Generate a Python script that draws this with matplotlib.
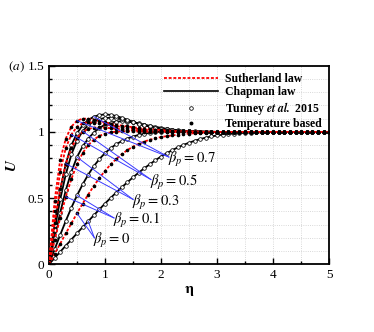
import numpy as np
import matplotlib
matplotlib.use("Agg")
import matplotlib.pyplot as plt
from matplotlib.ticker import MultipleLocator, FormatStrFormatter

plt.rcParams['font.family'] = ['Liberation Serif', 'DejaVu Serif']
plt.rcParams['mathtext.fontset'] = 'stix'

# eta grid (0 .. 5, step 0.1)
eta = np.round(np.arange(0, 5.01, 0.1), 2)

# Chapman law profiles (black, circles)
chap_0 = [0, .047, .094, .141, .187, .234, .280, .325, .370, .415,
          .459, .501, .542, .582, .620, .657, .692, .725, .756, .786,
          .814, .839, .862, .883, .902, .918, .933, .946, .957, .966,
          .973, .979, .984, .988, .991, .993, .995, .996, .997, .998,
          .999] + [1.0] * 10
chap_01 = [0, .112, .222, .328, .428, .520, .603, .677, .741, .795,
           .840, .877, .907, .931, .950, .965, .977, .986, .993, .998,
           1.002, 1.005, 1.006, 1.006, 1.005, 1.004, 1.003, 1.002, 1.001, 1.001] + [1.0] * 21
chap_03 = [0, .20, .39, .56, .70, .81, .89, .95, .995, 1.03,
           1.055, 1.07, 1.078, 1.08, 1.078, 1.072, 1.064, 1.055, 1.046, 1.038,
           1.031, 1.024, 1.018, 1.013, 1.009, 1.006, 1.004, 1.002, 1.001, 1.0] + [1.0] * 21
chap_05 = [0, .26, .49, .68, .83, .935, 1.005, 1.05, 1.08, 1.097,
           1.105, 1.107, 1.103, 1.095, 1.085, 1.073, 1.061, 1.05, 1.04, 1.032,
           1.025, 1.019, 1.014, 1.01, 1.007, 1.005, 1.003, 1.002, 1.001, 1.001] + [1.0] * 21
chap_07 = [0, .30, .56, .76, .90, .99, 1.05, 1.09, 1.115, 1.128,
           1.132, 1.129, 1.12, 1.107, 1.092, 1.077, 1.063, 1.051, 1.041, 1.032,
           1.025, 1.019, 1.014, 1.01, 1.007, 1.005, 1.003, 1.002, 1.001, 1.001] + [1.0] * 21

# Sutherland law profiles (red dashed, dots)
suth_0 = [0, .078, .156, .233, .310, .385, .458, .527, .592, .652,
          .706, .754, .796, .832, .863, .889, .910, .927, .941, .952,
          .961, .968, .974, .979, .983, .987, .990, .992, .994, .996,
          .997, .998, .999] + [1.0] * 18
suth_01 = [0, .18, .35, .51, .645, .755, .84, .90, .942, .97,
           .987, .997, 1.002, 1.004, 1.005, 1.004, 1.003, 1.002, 1.001, 1.001] + [1.0] * 31
suth_03 = [0, .31, .57, .76, .88, .955, 1.0, 1.022, 1.032, 1.034,
           1.032, 1.028, 1.024, 1.02, 1.016, 1.013, 1.01, 1.008, 1.006, 1.005,
           1.004, 1.003, 1.002, 1.002, 1.001, 1.001] + [1.0] * 25
suth_05 = [0, .40, .70, .88, .98, 1.04, 1.065, 1.072, 1.07, 1.064,
           1.057, 1.05, 1.043, 1.037, 1.031, 1.026, 1.022, 1.018, 1.015, 1.012,
           1.01, 1.008, 1.006, 1.005, 1.004, 1.003, 1.002, 1.001, 1.001] + [1.0] * 22
suth_07 = [0, .48, .79, .95, 1.04, 1.085, 1.10, 1.10, 1.092, 1.082,
           1.072, 1.063, 1.055, 1.048, 1.041, 1.035, 1.03, 1.025, 1.021, 1.017,
           1.014, 1.011, 1.009, 1.007, 1.005, 1.004, 1.003, 1.002, 1.001, 1.001] + [1.0] * 21

chapman = [chap_0, chap_01, chap_03, chap_05, chap_07]
sutherland = [suth_0, suth_01, suth_03, suth_05, suth_07]

beta_labels = ['0', '0.1', '0.3', '0.5', '0.7']
label_pos = [(0.79, 0.18), (1.14, 0.33), (1.48, 0.47), (1.80, 0.62), (2.12, 0.79)]
# grid index on (sutherland, chapman) curve where leader lines touch
leader_idx = [(5, 7), (3, 5), (3, 5), (4, 6), (5, 8)]

fig = plt.figure(figsize=(3.74, 3.32), dpi=100)
ax = fig.add_axes([0.131, 0.204, 0.749, 0.598])

for u in chapman:
    ax.plot(eta, u, color='black', lw=1.3, zorder=3)
    ax.plot(eta, u, ls='none', marker='o', ms=2.6, mfc='white', mec='black',
            mew=0.55, zorder=4)
for u in sutherland:
    ax.plot(eta, u, color='red', lw=1.3, ls=(0, (1.6, 1.0)), zorder=5)
    ax.plot(eta, u, ls='none', marker='o', ms=1.6, color='black', zorder=6)

for lab, (tx, ty), (i_s, i_c), us, uc in zip(beta_labels, label_pos, leader_idx,
                                           sutherland, chapman):
    ax.text(tx, ty, r'$\beta_p = %s$' % lab, fontsize=10.5, ha='left', va='center', zorder=8)
    for xx, yy in [(eta[i_s], us[i_s]), (eta[i_c], uc[i_c])]:
        ax.plot([xx, tx + 0.02], [yy, ty + 0.02], color='#3a3aff', lw=0.7, zorder=7)

# legend proxies
ax.plot([], [], color='red', lw=1.3, ls=(0, (1.6, 1.0)), label='Sutherland law')
ax.plot([], [], color='black', lw=1.2, label='Chapman law')
ax.plot([], [], ls='none', marker='o', ms=2.6, mfc='white', mec='black', mew=0.55,
        label=r'Tunney $\mathbfit{et\ al.}$ 2015')
ax.plot([], [], ls='none', marker='o', ms=1.8, color='black', label='Temperature based')
h, l = ax.get_legend_handles_labels()
leg = ax.legend(h[-4:], l[-4:], loc='upper right', frameon=False,
                handlelength=4.6, labelspacing=0.12, borderaxespad=0.2,
                handletextpad=0.6, prop={'weight': 'bold', 'size': 8.5})

ax.set_xlim(0, 5)
ax.set_ylim(0, 1.5)
ax.xaxis.set_major_locator(MultipleLocator(1))
ax.xaxis.set_minor_locator(MultipleLocator(0.5))
ax.yaxis.set_major_locator(MultipleLocator(0.5))
ax.yaxis.set_minor_locator(MultipleLocator(0.1))
ax.yaxis.set_major_formatter(FormatStrFormatter('%g'))
ax.tick_params(which='both', direction='in', labelsize=9.5, width=1.0)
ax.tick_params(which='major', length=4)
ax.tick_params(which='minor', length=2.5)
ax.grid(which='both', color='#cccccc', ls=':', lw=0.6)
for s in ax.spines.values():
    s.set_linewidth(1.3)

ax.set_xlabel(r'$\mathbf{\eta}$', fontsize=11, labelpad=2)
ax.set_ylabel(r'$\mathbfit{U}$', fontsize=11, labelpad=6)
fig.text(0.021, 0.80, r'$(a)$', fontsize=9.5, ha='left', va='center')

fig.savefig('out.png', dpi=100)
